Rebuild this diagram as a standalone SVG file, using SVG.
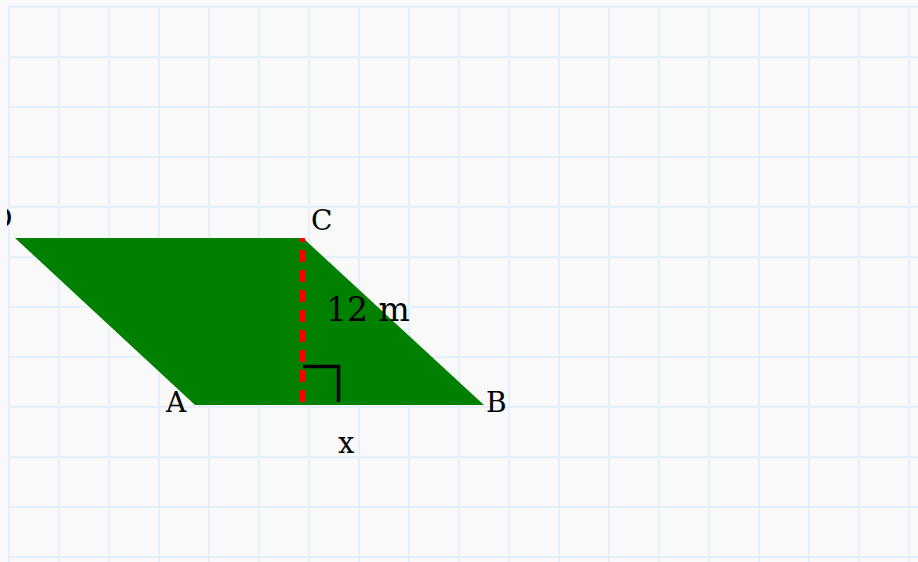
<svg xmlns="http://www.w3.org/2000/svg" width="918" height="562" viewBox="0 0 918 562">
  <defs>
    <pattern id="grid" x="8" y="6" width="50" height="50" patternUnits="userSpaceOnUse">
      <path d="M0 0H50M0 0V50" fill="none" stroke="#e6f0fc" stroke-width="4"/>
    </pattern>
    <clipPath id="area">
      <rect x="7" y="6" width="911" height="556"/>
    </clipPath>
  </defs>
  <style>
    .lbl { font-family: "DejaVu Serif", serif; fill: #000; }
    .sm { font-size: 28px; }
    .big { font-size: 33px; }
    .mid { font-size: 29px; }
  </style>
  <rect width="918" height="562" fill="#f9f9f9"/>
  <rect x="8" y="6" width="910" height="556" fill="url(#grid)"/>
  <g id="parallelogram">
    <polygon points="15,238 303,238 484,405 195,405" fill="#008000"/>
  </g>
  <g id="connectors">
    <line id="height" x1="302.5" y1="238" x2="302.5" y2="405" stroke="#ff0000" stroke-width="5" stroke-dasharray="12 8" stroke-dashoffset="8"/>
    <polyline id="right-angle" points="303,366.5 338.5,366.5 338.5,402" fill="none" stroke="#000" stroke-width="3.5"/>
  </g>
  <g id="label-D" clip-path="url(#area)"><text class="lbl sm" x="-10" y="228">D</text></g>
  <g id="label-C"><text class="lbl sm" x="311" y="230">C</text></g>
  <g id="label-A"><text class="lbl sm" x="166" y="412">A</text></g>
  <g id="label-B"><text class="lbl sm" x="486" y="412">B</text></g>
  <g id="label-h"><text class="lbl big" x="326" y="321">12 m</text></g>
  <g id="label-x"><text class="lbl mid" x="338" y="453">x</text></g>
</svg>
